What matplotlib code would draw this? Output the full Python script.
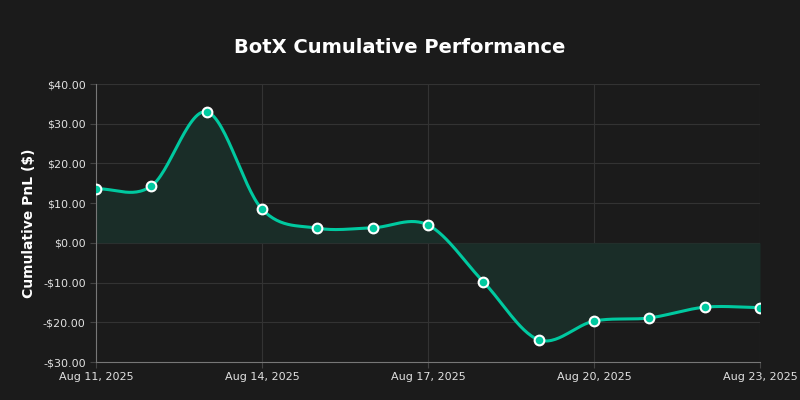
import numpy as np
import matplotlib
matplotlib.use('Agg')
import matplotlib.pyplot as plt
import matplotlib.dates as mdates
from matplotlib.ticker import FuncFormatter
import datetime as dt

# daily cumulative pnl values
days = ['2025-08-11', '2025-08-12', '2025-08-13', '2025-08-14', '2025-08-15',
        '2025-08-16', '2025-08-17', '2025-08-18', '2025-08-19', '2025-08-20',
        '2025-08-21', '2025-08-22', '2025-08-23']
pnl = [13.6, 14.3, 33.0, 8.5, 3.7, 3.8, 4.5, -9.8, -24.4, -19.7, -18.9, -16.2, -16.3]
xtick_days = ['2025-08-11', '2025-08-14', '2025-08-17', '2025-08-20', '2025-08-23']

BG = '#1b1b1b'
LINE = '#00c9a0'
FILL = '#1a2d28'


def smooth(x, y, n=30):
    # catmull-rom style hermite curve through the points
    x = np.asarray(x, float)
    y = np.asarray(y, float)
    m = np.zeros_like(y)
    m[1:-1] = (y[2:] - y[:-2]) / (x[2:] - x[:-2])
    m[0] = (y[1] - y[0]) / (x[1] - x[0])
    m[-1] = (y[-1] - y[-2]) / (x[-1] - x[-2])
    xs, ys = [], []
    for i in range(len(x) - 1):
        h = x[i + 1] - x[i]
        t = np.linspace(0, 1, n, endpoint=False)
        h00 = 2 * t**3 - 3 * t**2 + 1
        h10 = t**3 - 2 * t**2 + t
        h01 = -2 * t**3 + 3 * t**2
        h11 = t**3 - t**2
        xs.append(x[i] + t * h)
        ys.append(h00 * y[i] + h10 * h * m[i] + h01 * y[i + 1] + h11 * h * m[i + 1])
    xs.append([x[-1]])
    ys.append([y[-1]])
    return np.concatenate(xs), np.concatenate(ys)


dates = [mdates.date2num(dt.datetime.strptime(d, '%Y-%m-%d')) for d in days]
xt = [mdates.date2num(dt.datetime.strptime(d, '%Y-%m-%d')) for d in xtick_days]
sx, sy = smooth(dates, pnl)

fig = plt.figure(figsize=(8, 4), dpi=100, facecolor=BG)
ax = fig.add_axes([0.12, 0.095, 0.83, 0.695], facecolor=BG)

ax.fill_between(sx, sy, 0, color=FILL, zorder=1, linewidth=0)
ax.plot(sx, sy, color=LINE, linewidth=2.2, zorder=3, solid_capstyle='round')
ax.plot(dates, pnl, 'o', color=LINE, markeredgecolor='white', markeredgewidth=1.5,
        markersize=7, zorder=4)

ax.set_xlim(dates[0], dates[-1])
ax.set_ylim(-30, 40)
ax.set_yticks(range(-30, 41, 10))
ax.yaxis.set_major_formatter(FuncFormatter(lambda v, p: ('-$%.2f' % -v) if v < 0 else '$%.2f' % v))
ax.set_xticks(xt)
ax.set_xticklabels(['Aug 11, 2025', 'Aug 14, 2025', 'Aug 17, 2025', 'Aug 20, 2025', 'Aug 23, 2025'])

ax.grid(True, color='#333333', linewidth=0.8, zorder=0)
ax.set_axisbelow(True)
for s in ['top', 'right']:
    ax.spines[s].set_visible(False)
for s in ['left', 'bottom']:
    ax.spines[s].set_color('#777777')
    ax.spines[s].set_linewidth(0.8)
ax.tick_params(colors='#e0e0e0', labelsize=8, length=4, width=0.8)
ax.tick_params(axis='both', color='#444444')

ax.set_ylabel('Cumulative PnL ($)', color='white', fontsize=10, fontweight='bold', labelpad=5)
fig.text(0.5, 0.882, 'BotX Cumulative Performance', color='white', fontsize=14,
         fontweight='bold', ha='center', va='center')

fig.savefig('out.png', dpi=100, facecolor=BG)
